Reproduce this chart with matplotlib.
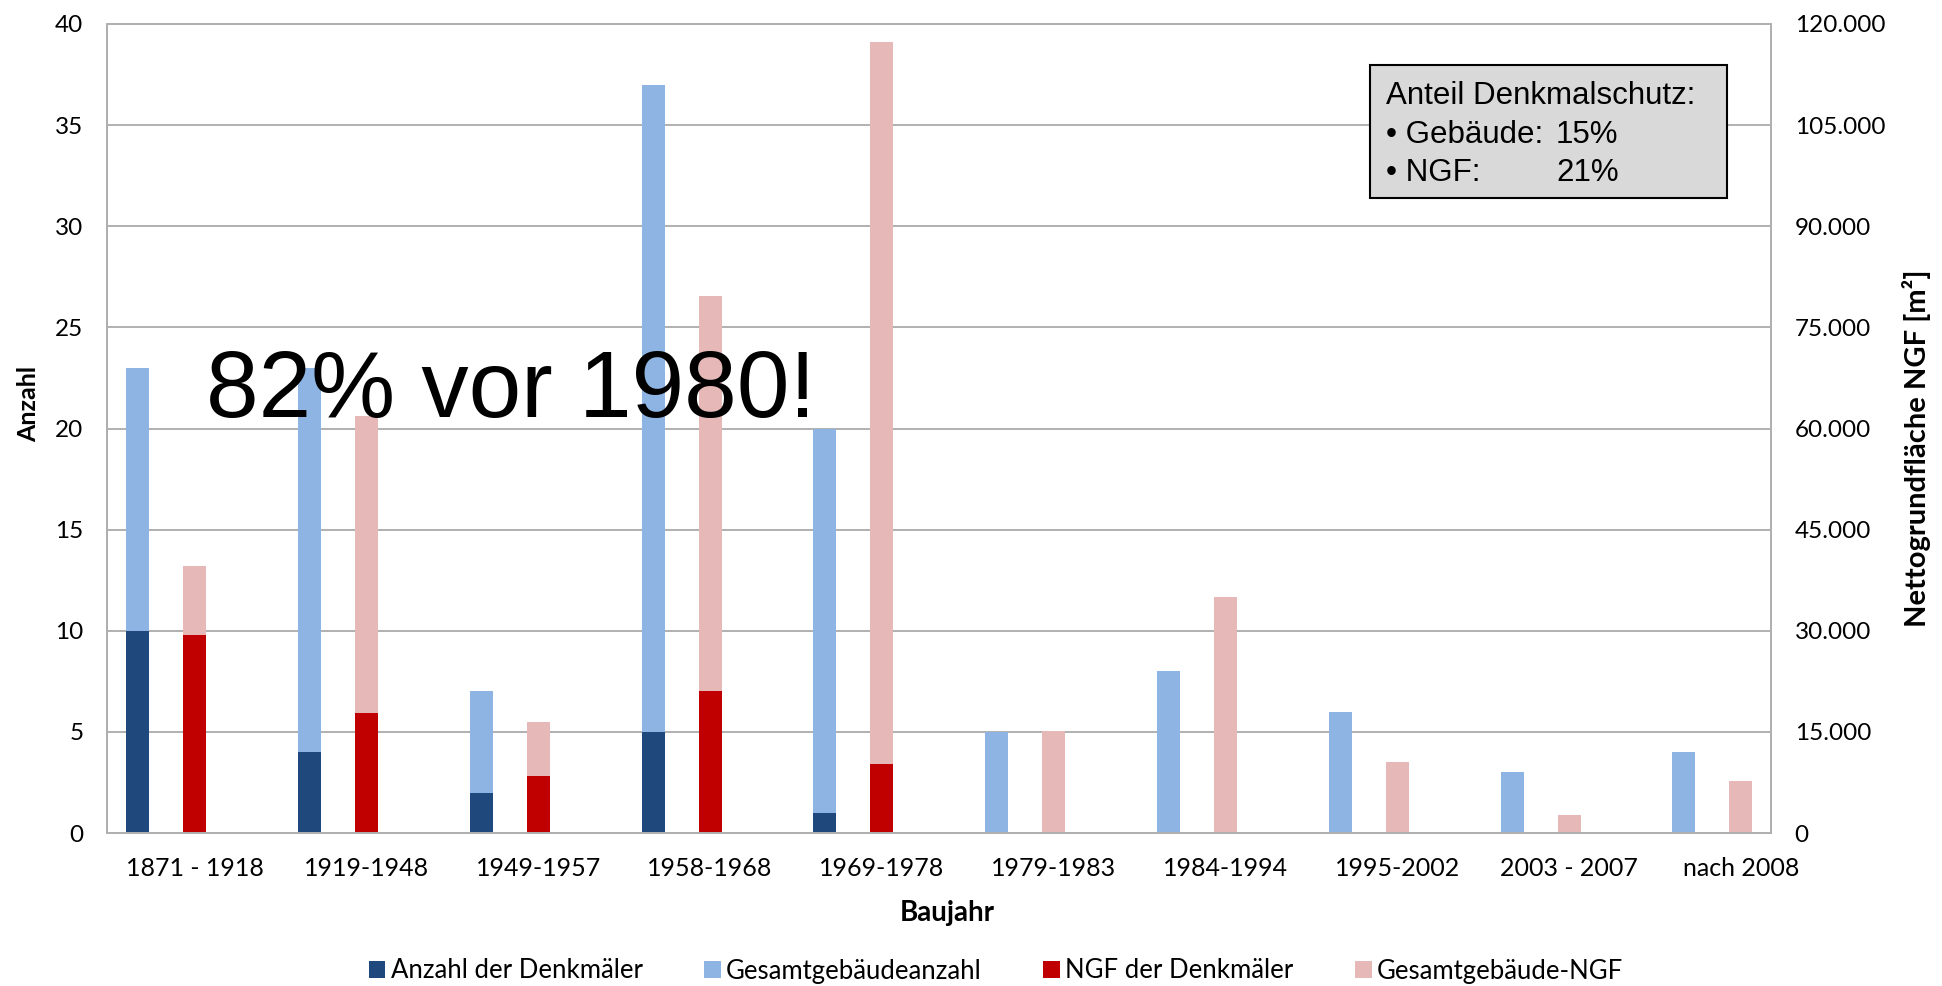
import matplotlib
matplotlib.use("Agg")
import matplotlib.pyplot as plt
from matplotlib.patches import Rectangle
from matplotlib.ticker import FuncFormatter, MultipleLocator
import numpy as np

# Werte
baujahr = ["1871 - 1918", "1919-1948", "1949-1957", "1958-1968", "1969-1978",
           "1979-1983", "1984-1994", "1995-2002", "2003 - 2007", "nach 2008"]
anzahl_denkmal = [10, 4, 2, 5, 1, 0, 0, 0, 0, 0]
anzahl_gesamt = [23, 23, 7, 37, 20, 5, 8, 6, 3, 4]
ngf_denkmal = [29300, 17800, 8400, 21100, 10300, 0, 0, 0, 0, 0]
ngf_gesamt = [39600, 61900, 16500, 79700, 117400, 15200, 35000, 10600, 2600, 7700]

C_DARK = "#1F497D"
C_LIGHT = "#8DB4E2"
C_RED = "#C00000"
C_PINK = "#E6B9B8"
GRID = "#B0B0B0"
TICKFONT = "Lato"
ARIAL = "Liberation Sans"

W, H = 1942, 986


def fx(px):
    return px / W


def fy(py):
    return 1 - py / H


fig = plt.figure(figsize=(W / 100, H / 100), dpi=100)
ax = fig.add_axes([fx(107), fy(833), fx(1771) - fx(107), fy(24) - fy(833)])
ax2 = ax.twinx()

x = np.arange(len(baujahr))
bw = 0.134
off = 0.332

rest_anzahl = [g - d for g, d in zip(anzahl_gesamt, anzahl_denkmal)]
rest_ngf = [g - d for g, d in zip(ngf_gesamt, ngf_denkmal)]

ax.bar(x - off, anzahl_denkmal, bw, color=C_DARK, label="Anzahl der Denkmäler", zorder=2)
ax.bar(x - off, rest_anzahl, bw, bottom=anzahl_denkmal, color=C_LIGHT,
       label="Gesamtgebäudeanzahl", zorder=2)
ax2.bar(x, ngf_denkmal, bw, color=C_RED, label="NGF der Denkmäler", zorder=2)
ax2.bar(x, rest_ngf, bw, bottom=ngf_denkmal, color=C_PINK,
        label="Gesamtgebäude-NGF", zorder=2)

ax.set_xlim(-0.51, 9.175)
ax.set_ylim(0, 40)
ax2.set_ylim(0, 120000)
ax.yaxis.set_major_locator(MultipleLocator(5))
ax2.yaxis.set_major_locator(MultipleLocator(15000))
ax2.yaxis.set_major_formatter(FuncFormatter(lambda v, p: f"{v:,.0f}".replace(",", ".")))

ax.set_xticks(x)
ax.set_xticklabels(baujahr)

ax.set_axisbelow(True)
ax.grid(axis="y", color=GRID, linewidth=1.4, zorder=0)

for a in (ax, ax2):
    for s in a.spines.values():
        s.set_color(GRID)
        s.set_linewidth(1.4)
    a.tick_params(length=0, labelsize=17.5, colors="black")
    for lab in a.get_xticklabels() + a.get_yticklabels():
        lab.set_fontfamily(TICKFONT)
ax.tick_params(axis="x", labelsize=18, pad=17)
ax.tick_params(axis="y", pad=17)
ax2.tick_params(axis="y", pad=17)

ax.set_ylabel("Anzahl", fontsize=18, fontweight="bold", family=TICKFONT)
ax.yaxis.set_label_coords(-0.040, 0.53)
ax.set_xlabel("Baujahr", fontsize=20, fontweight="bold", family=TICKFONT)
ax.xaxis.set_label_coords(0.505, -0.083)
ax2.set_ylabel("Nettogrundfläche NGF [m²]", fontsize=21, fontweight="bold", family=TICKFONT)
ax2.yaxis.set_label_coords(1.079, 0.475)

# grosser Hinweistext
fig.text(fx(206), fy(417), "82% vor 1980!", fontsize=68, family=ARIAL,
         ha="left", va="baseline", zorder=10)

# Kasten oben rechts
box = Rectangle((fx(1370), fy(198)), fx(1727) - fx(1370), fy(65) - fy(198),
                transform=fig.transFigure, facecolor="#D9D9D9", edgecolor="black",
                linewidth=1.5, zorder=9)
fig.patches.append(box)
fs_box = 22.5
fig.text(fx(1386), fy(104), "Anteil Denkmalschutz:", fontsize=fs_box, family=ARIAL,
         va="baseline", zorder=10)
fig.text(fx(1386), fy(143), "• Gebäude:", fontsize=fs_box, family=ARIAL, va="baseline", zorder=10)
fig.text(fx(1556), fy(143), "15%", fontsize=fs_box, family=ARIAL, va="baseline", zorder=10)
fig.text(fx(1386), fy(181), "• NGF:", fontsize=fs_box, family=ARIAL, va="baseline", zorder=10)
fig.text(fx(1556), fy(181), "21%", fontsize=fs_box, family=ARIAL, va="baseline", zorder=10)

h1, l1 = ax.get_legend_handles_labels()
h2, l2 = ax2.get_legend_handles_labels()
leg = fig.legend(h1 + h2, l1 + l2, loc="center", bbox_to_anchor=(fx(996), fy(971)),
                 ncol=4, frameon=False, handlelength=0.65, handleheight=0.65,
                 handletextpad=0.2, columnspacing=2.4,
                 prop={"family": TICKFONT, "size": 18.5})

fig.savefig("out.png", dpi=100)
